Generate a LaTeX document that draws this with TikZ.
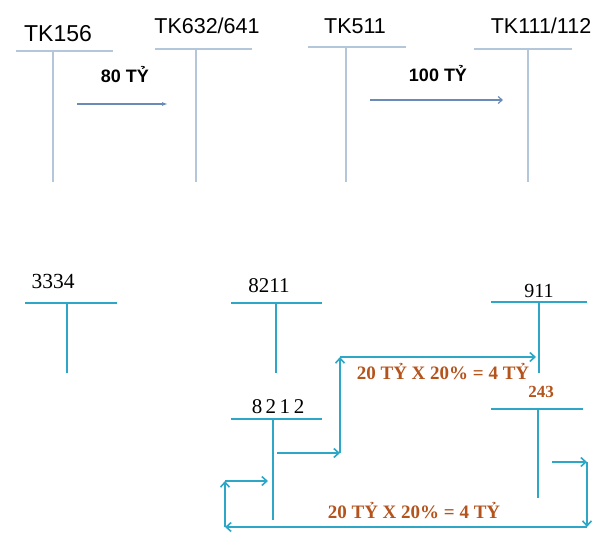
\documentclass[tikz,border=0pt]{standalone}
\usepackage{fontspec}
\setmainfont{Liberation Serif}
\setsansfont{Liberation Sans}
\usetikzlibrary{arrows.meta}
\definecolor{topline}{HTML}{B4C6DA}
\definecolor{toparrow}{HTML}{6A8BB8}
\definecolor{tline}{HTML}{2EA6C6}
\definecolor{lbl}{HTML}{B5531C}
\begin{document}
\begin{tikzpicture}[x=1pt,y=-1pt,
  topacct/.style={font=\sffamily\fontsize{21.5}{21.5}\selectfont, inner sep=0pt, anchor=base},
  topamt/.style={font=\sffamily\bfseries\fontsize{18}{18}\selectfont, inner sep=0pt, anchor=base},
  botacct/.style={font=\fontsize{21}{21}\selectfont, inner sep=0pt, anchor=base},
  botamt/.style={font=\bfseries\fontsize{19}{19}\selectfont, text=lbl, inner sep=0pt, anchor=base},
  topT/.style={draw=topline, line width=1.2pt},
  botT/.style={draw=tline, line width=2pt},
  toparr/.style={draw=toparrow, line width=1.2pt},
  botarr/.style={draw=tline, line width=2pt, -{Straight Barb[length=5pt,width=9pt,line width=1.6pt]}}
]
\useasboundingbox (0,0) rectangle (612,540);
\fill[white] (0,0) rectangle (612,540);

% ---------- top part ----------
\node[topacct, font=\sffamily\fontsize{23}{23}\selectfont] (tk156) at (58,42) {TK156};
\node[topacct] (tk632) at (207,34) {TK632/641};
\node[topacct] (tk511) at (355,34) {TK511};
\node[topacct] (tk111) at (541,34) {TK111/112};

\draw[topT] (16,51) -- (113,51) (53,51) -- (53,182);
\draw[topT] (155,49) -- (252,49) (196,49) -- (196,182);
\draw[topT] (308,47) -- (406,47) (346,47) -- (346,182);
\draw[topT] (474,49) -- (572,49) (528,49) -- (528,182);

\node[topamt] (a80) at (125,83) {80 TỶ};
\node[topamt] (a100) at (438,82) {100 TỶ};
\coordinate (s1) at (77,104);
\coordinate (e1) at (168,104);
\coordinate (s2) at (370,100);
\coordinate (e2) at (503,100);
\draw[toparr, -{Latex[length=6pt,width=4pt]}] (s1) -- (e1);
\draw[toparr, -{Straight Barb[length=4pt,width=7pt]}] (s2) -- (e2);

% ---------- bottom part ----------
\node[botacct, font=\fontsize{21.5}{21.5}\selectfont] (n3334) at (53,288) {3334};
\node[botacct] (n8211) at (269,292) {8211};
\node[botacct] (n8212) at (278,413) {8\,2\,1\,2};
\node[botacct, font=\fontsize{20}{20}\selectfont] (n911) at (539,297) {911};
\node[botamt, font=\bfseries\fontsize{17}{17}\selectfont] (n243) at (541,397) {243};

\draw[botT] (25,303) -- (117,303) (67,303) -- (67,373);
\draw[botT] (231,303) -- (322,303) (276,303) -- (276,373);
\draw[botT] (231,419) -- (322,419) (273,419) -- (273,520);
\draw[botT] (491,302) -- (587,302) (539,302) -- (539,373);
\draw[botT] (491,409) -- (583,409) (538,409) -- (538,498);

% flow 8212 -> 911
\coordinate (p1) at (277,453);
\coordinate (p2) at (340,453);
\coordinate (p3) at (340,357);
\coordinate (p4) at (536,357);
\draw[botarr] (p1) -- (p2);
\draw[botarr] (p2) -- (p3);
\draw[botarr] (p3) -- (p4);
\node[botamt] (l1) at (443,379) {20 TỶ X 20\% = 4 TỶ};

% flow 243 -> 8212
\coordinate (q1) at (552,462);
\coordinate (q2) at (587,462);
\coordinate (q3) at (587,527);
\coordinate (q4) at (225,527);
\coordinate (q5) at (225,481);
\coordinate (q6) at (268,481);
\draw[botarr] (q1) -- (q2);
\draw[botarr] (q2) -- (q3);
\draw[botarr] (q3) -- (q4);
\draw[botarr] (q4) -- (q5);
\draw[botarr] (q5) -- (q6);
\node[botamt] (l2) at (414,518) {20 TỶ X 20\% = 4 TỶ};
\end{tikzpicture}
\end{document}
